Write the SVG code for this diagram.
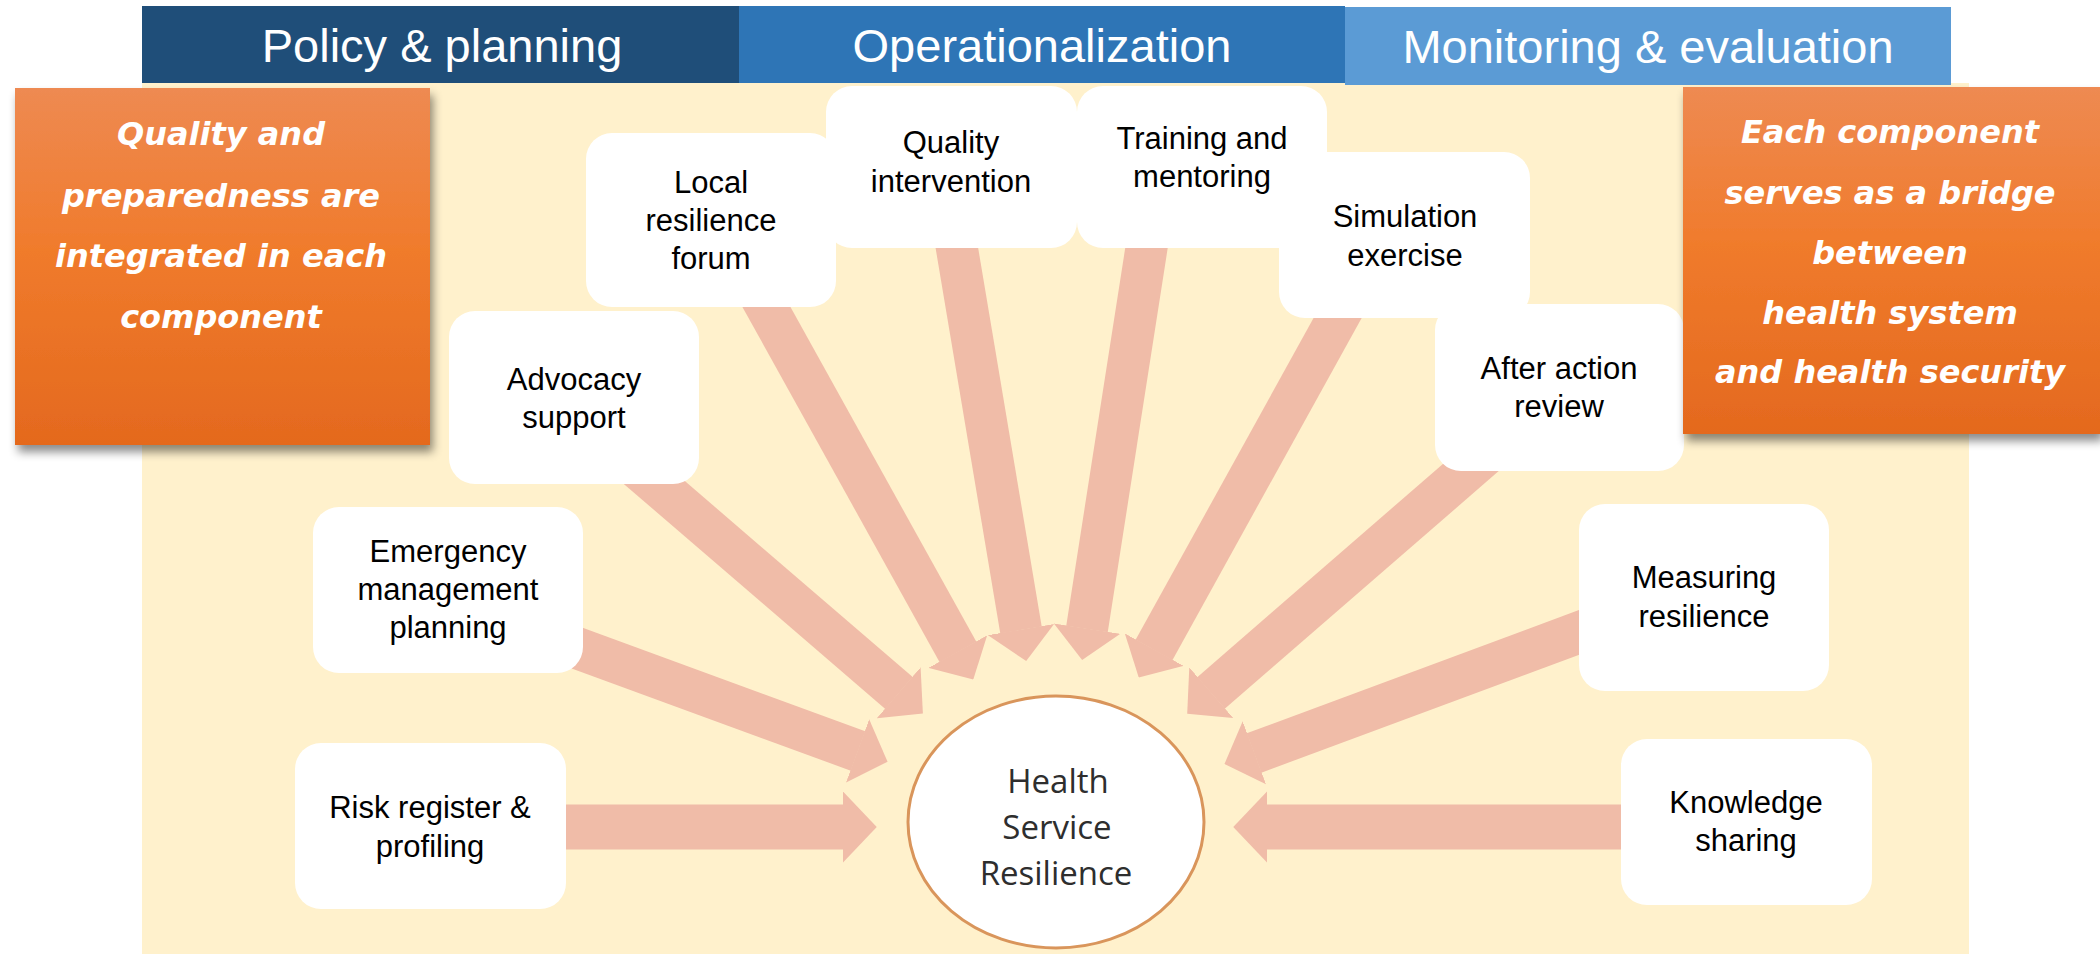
<svg xmlns="http://www.w3.org/2000/svg" width="2100" height="954" viewBox="0 0 2100 954">
  <defs>
    <style>
      .node rect { fill: #ffffff; }
      .lbl { font-family: "Liberation Sans", Arial, sans-serif; font-size: 31px; fill: #000000; text-anchor: middle; }
      .hdr text { font-family: "Liberation Sans", Arial, sans-serif; font-size: 47px; fill: #ffffff; text-anchor: middle; }
      .note text { font-family: "DejaVu Sans", sans-serif; font-weight: bold; font-style: italic; font-size: 32px; fill: #ffffff; text-anchor: middle; }
      .arrow { stroke: #F0BCA8; fill: none; marker-end: url(#head); }
      .core text { font-family: "Open Sans", "Noto Sans", sans-serif; font-size: 33px; fill: #2e2e2e; text-anchor: middle; }
    </style>
    <marker id="head" viewBox="0 0 0.76 1.6" markerWidth="0.76" markerHeight="1.6" refX="0.01" refY="0.8" orient="auto" markerUnits="strokeWidth" preserveAspectRatio="none">
      <path d="M0,0 L0.76,0.8 L0,1.6 Z" fill="#F0BCA8"/>
    </marker>
    <linearGradient id="orange" x1="0" y1="0" x2="0" y2="1">
      <stop offset="0" stop-color="#EE8A52"/>
      <stop offset="0.45" stop-color="#F07B2C"/>
      <stop offset="1" stop-color="#E4691E"/>
    </linearGradient>
    <filter id="shadow" x="-10%" y="-10%" width="125%" height="130%">
      <feDropShadow dx="3" dy="7" stdDeviation="5" flood-color="#000000" flood-opacity="0.45"/>
    </filter>
  </defs>

  <!-- cream panel behind the diagram -->
  <rect x="142" y="83" width="1827" height="871" fill="#FFF1CC"/>

  <!-- phase headers -->
  <g id="headers" class="hdr">
    <rect x="142" y="6" width="597" height="77" fill="#1F4E79"/>
    <text x="442" y="62">Policy &amp; planning</text>
    <rect x="739" y="6" width="606" height="77" fill="#2E75B6"/>
    <text x="1042" y="62">Operationalization</text>
    <rect x="1345" y="7" width="606" height="78" fill="#5B9BD5"/>
    <text x="1648" y="63">Monitoring &amp; evaluation</text>
  </g>

  <!-- block arrows pointing into the centre -->
  <g id="connectors">
    <path class="arrow" stroke-width="45" d="M540,827 L843,827"/>
    <path class="arrow" stroke-width="45" d="M1640,827 L1267,827"/>
    <path class="arrow" stroke-width="42" d="M555,640 L858,751"/>
    <path class="arrow" stroke-width="42" d="M634,465 L899,693"/>
    <path class="arrow" stroke-width="42" d="M752,281 L958,652"/>
    <path class="arrow" stroke-width="42" d="M952,219 L1021,630"/>
    <path class="arrow" stroke-width="42" d="M1151,219 L1087,629"/>
    <path class="arrow" stroke-width="42" d="M1352,292 L1154,650"/>
    <path class="arrow" stroke-width="42" d="M1491,450 L1211,693"/>
    <path class="arrow" stroke-width="42" d="M1607,622 L1254,753"/>
  </g>

  <!-- centre -->
  <g id="health-service-resilience" class="core">
    <ellipse cx="1056" cy="822" rx="148" ry="126" fill="#ffffff" stroke="#D9955B" stroke-width="3"/>
    <text x="1058" y="793">Health</text>
    <text x="1057" y="839">Service</text>
    <text x="1056" y="885">Resilience</text>
  </g>

  <!-- components -->
  <g id="local-resilience-forum" class="node">
    <rect x="586" y="133" width="250" height="174" rx="26"/>
    <text class="lbl" x="711" y="193">Local</text>
    <text class="lbl" x="711" y="231">resilience</text>
    <text class="lbl" x="711" y="269">forum</text>
  </g>
  <g id="quality-intervention" class="node">
    <rect x="826" y="86" width="251" height="162" rx="26"/>
    <text class="lbl" x="951" y="153">Quality</text>
    <text class="lbl" x="951" y="192">intervention</text>
  </g>
  <g id="training-and-mentoring" class="node">
    <rect x="1077" y="86" width="250" height="162" rx="26"/>
    <text class="lbl" x="1202" y="149">Training and</text>
    <text class="lbl" x="1202" y="187">mentoring</text>
  </g>
  <g id="simulation-exercise" class="node">
    <rect x="1279" y="152" width="251" height="166" rx="26"/>
    <text class="lbl" x="1405" y="227">Simulation</text>
    <text class="lbl" x="1405" y="266">exercise</text>
  </g>
  <g id="after-action-review" class="node">
    <rect x="1435" y="304" width="249" height="167" rx="26"/>
    <text class="lbl" x="1559" y="379">After action</text>
    <text class="lbl" x="1559" y="417">review</text>
  </g>
  <g id="advocacy-support" class="node">
    <rect x="449" y="311" width="250" height="173" rx="26"/>
    <text class="lbl" x="574" y="390">Advocacy</text>
    <text class="lbl" x="574" y="428">support</text>
  </g>
  <g id="emergency-management-planning" class="node">
    <rect x="313" y="507" width="270" height="166" rx="26"/>
    <text class="lbl" x="448" y="562">Emergency</text>
    <text class="lbl" x="448" y="600">management</text>
    <text class="lbl" x="448" y="638">planning</text>
  </g>
  <g id="risk-register-profiling" class="node">
    <rect x="295" y="743" width="271" height="166" rx="26"/>
    <text class="lbl" x="430" y="818">Risk register &amp;</text>
    <text class="lbl" x="430" y="857">profiling</text>
  </g>
  <g id="measuring-resilience" class="node">
    <rect x="1579" y="504" width="250" height="187" rx="26"/>
    <text class="lbl" x="1704" y="588">Measuring</text>
    <text class="lbl" x="1704" y="627">resilience</text>
  </g>
  <g id="knowledge-sharing" class="node">
    <rect x="1621" y="739" width="251" height="166" rx="26"/>
    <text class="lbl" x="1746" y="813">Knowledge</text>
    <text class="lbl" x="1746" y="851">sharing</text>
  </g>

  <!-- side notes -->
  <g id="note-left" class="note">
    <rect x="15" y="88" width="415" height="357" fill="url(#orange)" filter="url(#shadow)"/>
    <text x="221" y="145">Quality and</text>
    <text x="221" y="207">preparedness are</text>
    <text x="221" y="267">integrated in each</text>
    <text x="221" y="328">component</text>
  </g>
  <g id="note-right" class="note">
    <rect x="1683" y="87" width="417" height="347" fill="url(#orange)" filter="url(#shadow)"/>
    <text x="1890" y="143">Each component</text>
    <text x="1890" y="204">serves as a bridge</text>
    <text x="1890" y="264">between</text>
    <text x="1890" y="324">health system</text>
    <text x="1890" y="383">and health security</text>
  </g>
</svg>
